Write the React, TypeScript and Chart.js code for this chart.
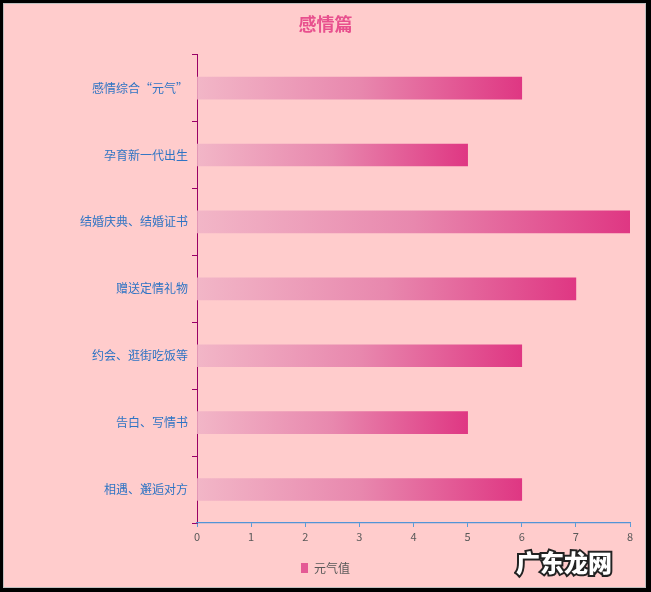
import React, { useEffect, useRef } from "react";
import { Chart, registerables } from "chart.js";

Chart.register(...registerables);

const categories = [
  "感情综合“元气”",
  "孕育新一代出生",
  "结婚庆典、结婚证书",
  "赠送定情礼物",
  "约会、逛街吃饭等",
  "告白、写情书",
  "相遇、邂逅对方",
];
const values = [6, 5, 8, 7, 6, 5, 6];
const xTicks = [0, 1, 2, 3, 4, 5, 6, 7, 8];
const seriesName = "元气值";
const titleText = "感情篇";
const watermark = "广东龙网";

const FONT = "'Noto Sans CJK SC', 'Noto Sans', sans-serif";

export default function App() {
  const ref = useRef<HTMLCanvasElement | null>(null);

  useEffect(() => {
    if (!ref.current) return;
    const chart = new Chart(ref.current, {
      type: "bar",
      data: {
        labels: categories,
        datasets: [
          {
            label: seriesName,
            data: values,
            barThickness: 22,
            backgroundColor: (ctx: any) => {
              const c = ctx.chart;
              const xs = c.scales && c.scales.x;
              if (!xs || ctx.raw === undefined || ctx.type !== "data") return "#E45A95";
              const x0 = xs.getPixelForValue(0);
              const x1 = xs.getPixelForValue(ctx.raw);
              if (!isFinite(x0) || !isFinite(x1) || x1 <= x0) return "#E45A95";
              const g = c.ctx.createLinearGradient(x0, 0, x1, 0);
              g.addColorStop(0, "#F2B6C7");
              g.addColorStop(0.5, "#E888AE");
              g.addColorStop(1, "#DF3783");
              return g;
            },
            borderWidth: 0,
          },
        ],
      },
      options: {
        indexAxis: "y",
        responsive: false,
        animation: false,
        layout: { padding: { left: 21, right: 21, top: 0, bottom: 8 } },
        scales: {
          x: {
            min: 0,
            max: 8,
            afterFit: (s: any) => {
              s.height = 29;
            },
            afterBuildTicks: (s: any) => {
              s.ticks = xTicks.map((v) => ({ value: v }));
            },
            grid: {
              drawOnChartArea: false,
              drawTicks: true,
              tickLength: 4,
              color: "#5B9BD5",
              lineWidth: 1,
            },
            border: { display: true, color: "#5294D6", width: 1.2, z: 1 },
            ticks: {
              color: "#595959",
              font: { family: FONT, size: 11 },
              padding: 3,
            },
          },
          y: {
            type: "category",
            afterFit: (s: any) => {
              s.width = 176;
            },
            grid: {
              drawOnChartArea: false,
              drawTicks: true,
              tickLength: 5,
              color: "#990066",
              offset: true,
            },
            border: { color: "#990066", width: 1 },
            ticks: {
              color: "#2F74C4",
              font: { family: FONT, size: 12 },
              padding: 4,
            },
          },
        },
        plugins: {
          title: {
            display: true,
            text: titleText,
            color: "#E8508E",
            font: { family: FONT, size: 18, weight: "bold" },
            padding: { top: 13, bottom: 20 },
          },
          legend: {
            display: true,
            position: "bottom",
            labels: {
              boxWidth: 7,
              boxHeight: 10,
              color: "#595959",
              font: { family: FONT, size: 12 },
              padding: 10,
              generateLabels: () => [
                {
                  text: seriesName,
                  fillStyle: "#E45A95",
                  strokeStyle: "rgba(0,0,0,0)",
                  lineWidth: 0,
                  datasetIndex: 0,
                  hidden: false,
                  fontColor: "#595959",
                },
              ],
            },
          },
          tooltip: { enabled: false },
        },
      },
    });
    return () => chart.destroy();
  }, []);

  return (
    <div
      style={{
        position: "fixed",
        left: 0,
        top: 0,
        width: 651,
        height: 592,
        background: "#000",
      }}
    >
      <div
        style={{
          position: "absolute",
          left: 3,
          top: 3,
          width: 643,
          height: 585,
          boxSizing: "border-box",
          border: "1px solid #BFBFBF",
          background: "#FFCCCC",
        }}
      />
      <canvas
        ref={ref}
        width={651}
        height={592}
        style={{ position: "absolute", left: 0, top: 0, width: 651, height: 592 }}
      />
      <div
        style={{
          position: "absolute",
          left: 516,
          top: 546,
          fontFamily: FONT,
          fontWeight: 900,
          fontSize: 24,
          color: "#fff",
          WebkitTextStroke: "4px #222",
          paintOrder: "stroke fill",
          letterSpacing: 0,
          lineHeight: "32px",
          whiteSpace: "nowrap",
        }}
      >
        {watermark}
      </div>
    </div>
  );
}
